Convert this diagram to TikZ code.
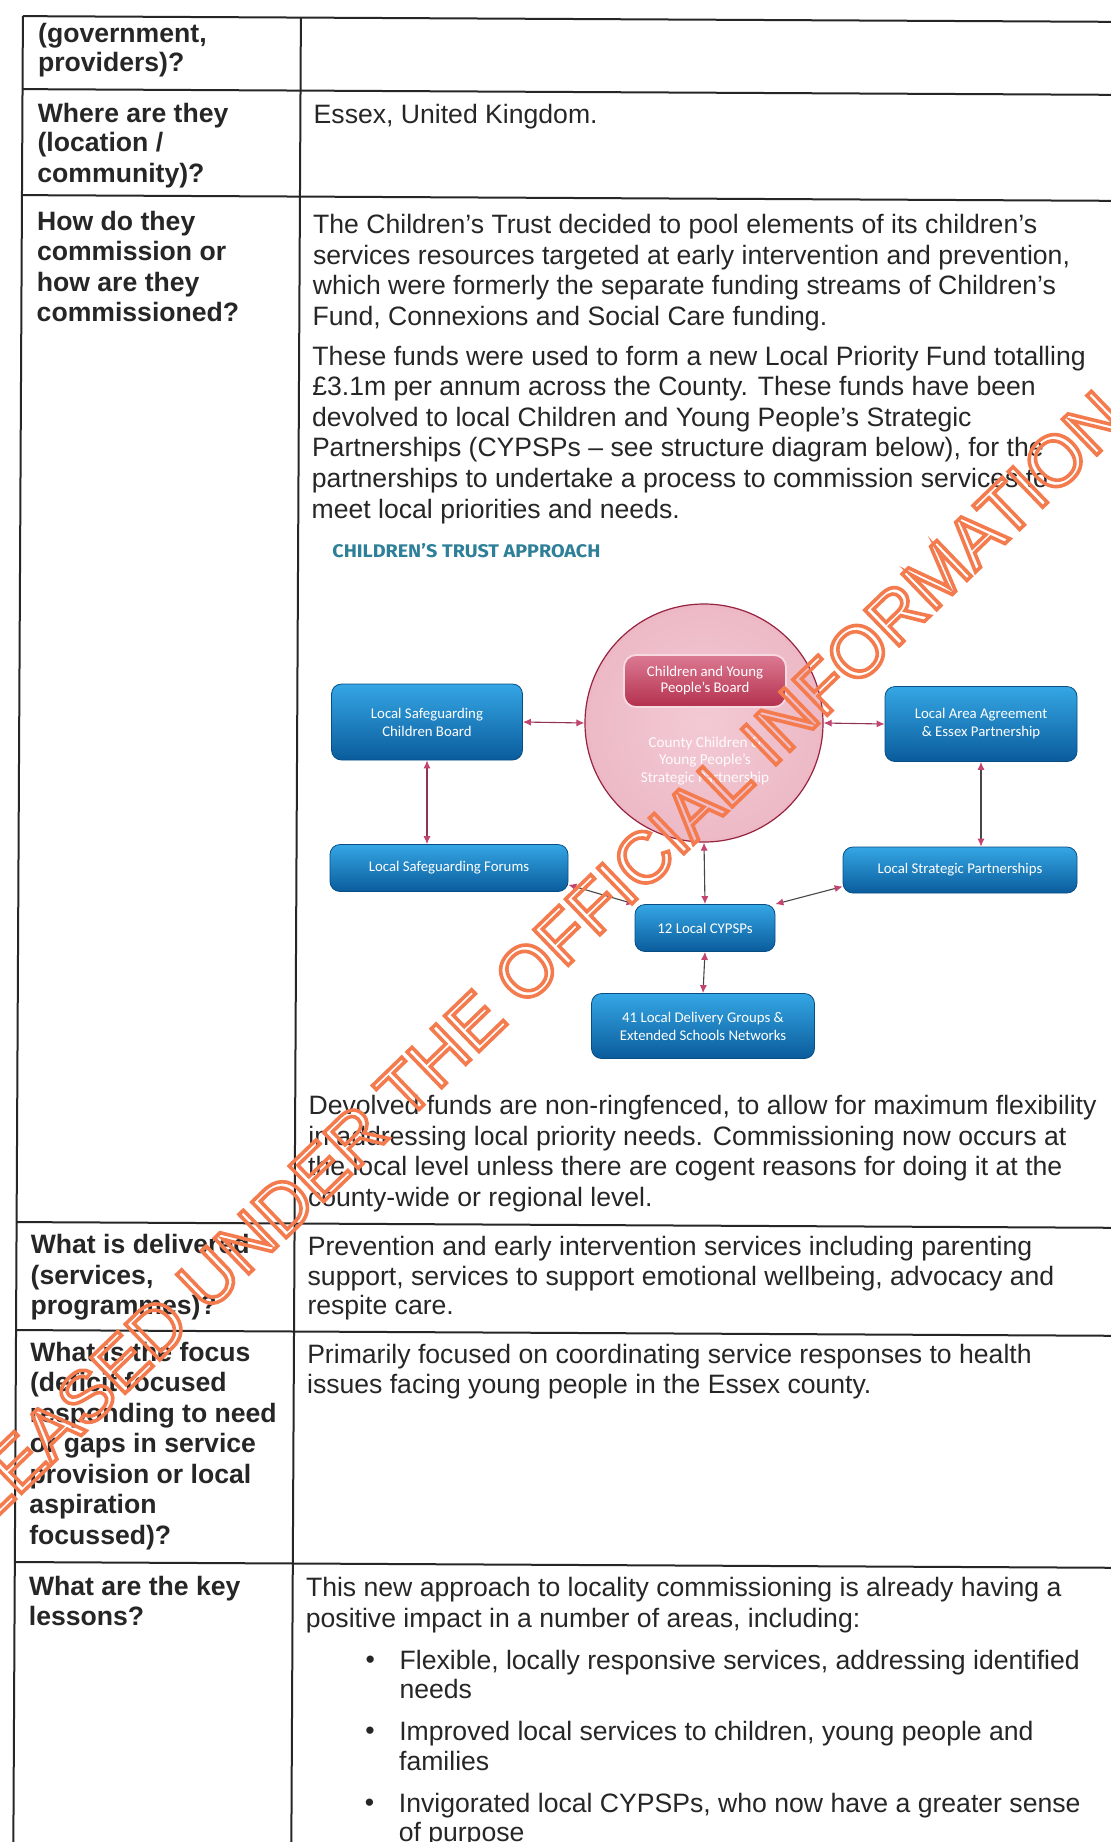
\documentclass[tikz,border=0pt]{standalone}
\usepackage{fontspec}
\usepackage{graphicx}
\setmainfont{Liberation Sans}
\newfontfamily\boxfont{Carlito}
\newfontfamily\titlefont{Fira Sans}
\usetikzlibrary{arrows.meta}

\definecolor{rulec}{HTML}{262626}
\definecolor{ink}{HTML}{262626}
\definecolor{bluetop}{HTML}{35A6E4}
\definecolor{bluebot}{HTML}{0A5C9C}
\definecolor{titlec}{HTML}{2E7F98}
\definecolor{pinkin}{HTML}{F3CAD4}
\definecolor{pinkout}{HTML}{B2294A}
\definecolor{pillA}{HTML}{DC7A93}
\definecolor{pillB}{HTML}{B3304D}
\definecolor{tipc}{HTML}{C2456F}
\definecolor{wm}{HTML}{F47B4E}

\pgfdeclareradialshading{crimsonball}{\pgfpoint{0bp}{0bp}}{%
  color(0bp)=(pinkin); color(24bp)=(pinkin!90!pinkout);
  color(36bp)=(pinkin!65!pinkout); color(44bp)=(pinkin!35!pinkout);
  color(50bp)=(pinkout)}

% hollow (stroked) lettering for the stamp
\newcommand{\hollow}[1]{\special{pdf:literal direct 1 Tr 1.8 w}#1\special{pdf:literal direct 0 Tr}}

\newcommand{\tabtext}{\fontsize{13.3pt}{15.3pt}\selectfont}

\tikzset{
  lt/.style={anchor=base west, inner sep=0pt, font=\tabtext\bfseries, text=ink},
  rt/.style={anchor=base west, inner sep=0pt, font=\tabtext, text=ink},
  tabrule/.style={draw=rulec, line width=1pt},
  bluebox/.style={rectangle, rounded corners=5pt, top color=bluetop, bottom color=bluebot,
    draw=bluebot!85!black, line width=0.4pt, text=white, align=center, inner sep=0pt,
    font=\boxfont\fontsize{7.4pt}{9pt}\selectfont},
  link/.style={draw=ink!85, line width=0.55pt,
    arrows={Latex[length=4pt,width=3.6pt,color=tipc]-Latex[length=4pt,width=3.6pt,color=tipc]}},
  pinklink/.style={link, draw=tipc!75!black}
}

\begin{document}
\begin{tikzpicture}[x=0.5pt,y=-0.5pt]
\useasboundingbox[fill=white] (0,0) rectangle (1110,1842);

% ---------------- table and its text ----------------
\begin{scope}[rotate=-0.3]
  \draw[tabrule] (23,16) -- (1130,16);
  \draw[tabrule] (23,89) -- (1130,89);
  \draw[tabrule] (23,195) -- (1130,195);
  \draw[tabrule] (23,1222) -- (1130,1222);
  \draw[tabrule] (23,1330) -- (1130,1330);
  \draw[tabrule] (23,1562) -- (1130,1562);
  \draw[tabrule] (23,16) -- (23,1870);
  \draw[tabrule] (301,16) -- (301,1870);

  % left column
  \node[lt] (q1a) at (38,42) {(government,};
  \node[lt] (q1b) at (38,71) {providers)?};
  \node[lt] (q2a) at (38,122) {Where are they};
  \node[lt] (q2b) at (38,151) {(location /};
  \node[lt] (q2c) at (38,182) {community)?};
  \node[lt] (q3a) at (38,230) {How do they};
  \node[lt] (q3b) at (38,260) {commission or};
  \node[lt] (q3c) at (38,291) {how are they};
  \node[lt] (q3d) at (38,321) {commissioned?};
  \node[lt] (q4a) at (37,1253) {What is delivered};
  \node[lt] (q4b) at (37,1284) {(services,};
  \node[lt] (q4c) at (37,1314) {programmes)?};
  \node[lt] (q5a) at (37,1361) {What is the focus};
  \node[lt] (q5b) at (37,1391) {(deficit focused};
  \node[lt] (q5c) at (37,1422) {responding to need};
  \node[lt] (q5d) at (37,1452) {or gaps in service};
  \node[lt] (q5e) at (37,1483) {provision or local};
  \node[lt] (q5f) at (37,1513) {aspiration};
  \node[lt] (q5g) at (37,1544) {focussed)?};
  \node[lt] (q6a) at (37,1595) {What are the key};
  \node[lt] (q6b) at (37,1625) {lessons?};

  % right column
  \node[rt] (a2) at (314,122) {Essex, United Kingdom.};
  \node[rt] (a3a) at (314,232) {The Children’s Trust decided to pool elements of its children’s};
  \node[rt] (a3b) at (314,263) {services resources targeted at early intervention and prevention,};
  \node[rt] (a3c) at (314,293) {which were formerly the separate funding streams of Children’s};
  \node[rt] (a3d) at (314,324) {Fund, Connexions and Social Care funding.};
  \node[rt] (a3e) at (314,364) {These funds were used to form a new Local Priority Fund totalling};
  \node[rt] (a3f) at (314,394) {£3.1m per annum across the County. These funds have been};
  \node[rt] (a3g) at (314,425) {devolved to local Children and Young People’s Strategic};
  \node[rt] (a3h) at (314,455) {Partnerships (CYPSPs – see structure diagram below), for the};
  \node[rt] (a3i) at (314,486) {partnerships to undertake a process to commission services to};
  \node[rt] (a3j) at (314,517) {meet local priorities and needs.};
  \node[rt] (a3k) at (314,1113) {Devolved funds are non-ringfenced, to allow for maximum flexibility};
  \node[rt] (a3l) at (314,1144) {in addressing local priority needs. Commissioning now occurs at};
  \node[rt] (a3m) at (314,1174) {the local level unless there are cogent reasons for doing it at the};
  \node[rt] (a3n) at (314,1205) {county-wide or regional level.};
  \node[rt] (a4a) at (314,1254) {Prevention and early intervention services including parenting};
  \node[rt] (a4b) at (314,1284) {support, services to support emotional wellbeing, advocacy and};
  \node[rt] (a4c) at (314,1313) {respite care.};
  \node[rt] (a5a) at (314,1362) {Primarily focused on coordinating service responses to health};
  \node[rt] (a5b) at (314,1392) {issues facing young people in the Essex county.};
  \node[rt] (a6a) at (314,1595) {This new approach to locality commissioning is already having a};
  \node[rt] (a6b) at (314,1626) {positive impact in a number of areas, including:};
  \node[rt] (b1) at (374,1667) {\textbullet};
  \node[rt] (a6c) at (408,1667) {Flexible, locally responsive services, addressing identified};
  \node[rt] (a6d) at (408,1696) {needs};
  \node[rt] (b2) at (374,1738) {\textbullet};
  \node[rt] (a6e) at (408,1738) {Improved local services to children, young people and};
  \node[rt] (a6f) at (408,1768) {families};
  \node[rt] (b3) at (374,1810) {\textbullet};
  \node[rt] (a6g) at (408,1810) {Invigorated local CYPSPs, who now have a greater sense};
  \node[rt] (a6h) at (408,1839) {of purpose};
\end{scope}

% ---------------- structure diagram ----------------
\node[anchor=base west, inner sep=0pt, text=titlec] (title) at (332,557)
  {\resizebox{134pt}{7pt}{\titlefont\bfseries CHILDREN’S TRUST APPROACH}};

\node[circle, minimum size=119pt, inner sep=0pt, shading=crimsonball,
      draw=pinkout!85!black, line width=0.6pt] (county) at (704,723) {};
\node[rectangle, rounded corners=6pt, top color=pillA, bottom color=pillB,
      draw=pinkin!70!white, line width=0.9pt, minimum width=81pt, minimum height=26pt,
      text=white, align=center, inner sep=0pt,
      font=\boxfont\fontsize{7.4pt}{8pt}\selectfont] (board) at (705,681)
  {Children and Young\\People’s Board};
\node[text=white!92!pinkin, align=center, inner sep=0pt,
      font=\boxfont\fontsize{7.6pt}{8.6pt}\selectfont] (countytxt) at (705,761)
  {County Children \&\\Young People’s\\Strategic Partnership};

\node[bluebox, minimum width=95.5pt, minimum height=38pt] (lscb) at (427,722)
  {Local Safeguarding\\Children Board};
\node[bluebox, minimum width=96pt, minimum height=37.5pt] (laa) at (981,724)
  {Local Area Agreement\\\& Essex Partnership};
\node[bluebox, minimum width=119pt, minimum height=23.5pt] (lsf) at (449,868)
  {Local Safeguarding Forums};
\node[bluebox, minimum width=117pt, minimum height=23pt] (lsp) at (960,870)
  {Local Strategic Partnerships};
\node[bluebox, minimum width=70pt, minimum height=23.5pt] (cyp) at (705,928)
  {12 Local CYPSPs};
\node[bluebox, minimum width=111.5pt, minimum height=32.5pt] (ldg) at (703,1026)
  {41 Local Delivery Groups \&\\Extended Schools Networks};

\draw[pinklink] (lscb.east) -- (county.west);
\draw[pinklink] (county.east) -- (laa.west);
\draw[pinklink] (lscb.south) -- (lsf.north -| lscb.south);
\draw[link] (laa.south) -- (lsp.north -| laa.south);
\draw[link] (county.south) -- (cyp.north);
\draw[link] (lsf.-8) -- (cyp.north west);
\draw[link] (lsp.188) -- (cyp.north east);
\draw[link] (cyp.south) -- (ldg.north);

% ---------------- stamp across the page ----------------
\node[rotate=44, text=wm, inner sep=0pt,
      font=\fontsize{36pt}{36pt}\selectfont] (stamp) at (565,934)
  {\hollow{RELEASED UNDER THE OFFICIAL INFORMATION ACT}};
\end{tikzpicture}
\end{document}
